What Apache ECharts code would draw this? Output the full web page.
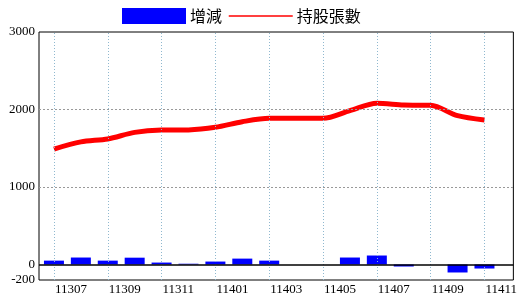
<!DOCTYPE html>
<html>
<head>
<meta charset="utf-8">
<script src="https://cdn.jsdelivr.net/npm/echarts@6/dist/echarts.min.js"></script>
<style>html,body{margin:0;padding:0;background:#fff}#c{width:520px;height:300px}</style>
</head>
<body>
<div id="c"></div>
<script>
const categories = ['11307','11308','11309','11310','11311','11312','11401','11402','11403','11404','11405','11406','11407','11408','11409','11410','11411'];
const changeValues = [50, 90, 50, 88, 25, 10, 38, 76, 50, 0, 0, 90, 116, -26, 0, -103, -52];
const holderValues = [1490, 1582, 1620, 1705, 1735, 1737, 1770, 1842, 1886, 1886, 1886, 1985, 2080, 2058, 2054, 1920, 1864];
const yTickValues = [-200, 0, 1000, 2000, 3000];
const xLabelIndex = [0, 2, 4, 6, 8, 10, 12, 14, 16];
const seriesNames = ['增減', '持股張數'];

const chart = echarts.init(document.getElementById('c'), null, {renderer: 'canvas'});
const numFont = 'Liberation Serif';
const cjkFont = '"Noto Sans CJK TC"';

const vLines = xLabelIndex.map(i => ({xAxis: i}));
const hLines = [1000, 2000].map(v => ({yAxis: v}));

chart.setOption({
  animation: false,
  backgroundColor: '#fff',
  legend: {
    left: 122, top: 8, padding: 0,
    itemWidth: 64, itemHeight: 16, itemGap: 6,
    textStyle: {fontFamily: cjkFont, fontSize: 16, color: '#000', padding: [0,0,0,-1]},
    data: [
      {name: seriesNames[0], icon: 'rect'},
      {name: seriesNames[1], lineStyle: {width: 1.5}, itemStyle: {opacity: 0}}
    ]
  },
  grid: {left: 39, right: 5, top: 32, bottom: 20, show: true, borderColor: '#000', borderWidth: 1, backgroundColor: '#fff'},
  xAxis: {
    type: 'value',
    min: -15/27, max: 16 + 29/27,
    axisLine: {show: false}, axisTick: {show: false}, splitLine: {show: false},
    axisLabel: {
      customValues: xLabelIndex,
      formatter: v => categories[Math.round(v)],
      align: 'left', margin: 3, padding: [0,0,0,1],
      fontFamily: numFont, fontSize: 13, color: '#000'
    }
  },
  yAxis: {
    type: 'value', min: -200, max: 3000,
    axisLine: {show: false}, axisTick: {show: false}, splitLine: {show: false},
    axisLabel: {
      customValues: yTickValues,
      formatter: v => String(v),
      margin: 4,
      fontFamily: numFont, fontSize: 13, color: '#000'
    }
  },
  series: [
    {
      name: 'grid', type: 'line', data: [], z: 0, silent: true,
      markLine: {
        silent: true, symbol: 'none', label: {show: false}, animation: false,
        data: [
          ...vLines.map(d => Object.assign(d, {lineStyle: {type: [1, 2], color: '#8fb8cf', width: 1}})),
          ...hLines.map(d => Object.assign(d, {lineStyle: {type: [2, 2], color: '#999', width: 1}}))
        ]
      }
    },
    {
      name: seriesNames[0], type: 'bar', barWidth: 20, z: 2,
      itemStyle: {color: '#0000ff'},
      data: changeValues.map((v, i) => [i, v]),
      markLine: {
        silent: true, symbol: 'none', label: {show: false}, animation: false,
        data: [{yAxis: 0, lineStyle: {type: 'solid', color: '#000', width: 1.5}}]
      }
    },
    {
      name: seriesNames[1], type: 'line', z: 3,
      symbol: 'none', smooth: 0.3,
      lineStyle: {color: '#ff0000', width: 5},
      itemStyle: {color: '#ff0000'},
      data: holderValues.map((v, i) => [i, v])
    }
  ]
});
</script>
</body>
</html>
